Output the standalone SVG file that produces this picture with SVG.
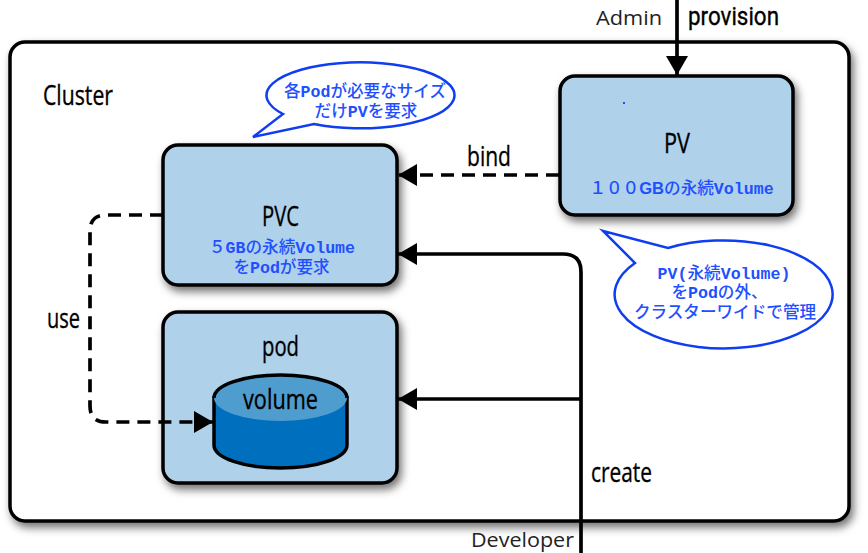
<svg xmlns="http://www.w3.org/2000/svg" width="868" height="553" viewBox="0 0 868 553">
<style>
.box{fill:#afd1e9;stroke:#000;stroke-width:3.5;filter:url(#sh)}
.lab{font-family:"Open Sans","Liberation Sans",sans-serif;font-size:28px;fill:#000;stroke:#000;stroke-width:.35}
.act{font-family:"Open Sans","Liberation Sans",sans-serif;font-size:20px;fill:#222}
.note{font-family:"Liberation Mono","Noto Sans CJK JP",sans-serif;font-size:16.600px;font-weight:500;fill:#1f50ff;text-anchor:middle}
.m{font-family:"Liberation Mono","Noto Sans CJK JP",monospace;font-weight:700}
.gb{font-family:"Liberation Sans","Noto Sans CJK JP",sans-serif;font-weight:700}
.bub{fill:#fff;stroke:#0f3df0;stroke-width:2.5;stroke-linejoin:miter}
.con{fill:none;stroke:#000;stroke-width:3.7}
.dash{stroke-dasharray:13 8}
</style>
<defs>
<filter id="sh" x="-10%" y="-10%" width="120%" height="125%"><feDropShadow dx="3" dy="5" stdDeviation="4" flood-color="#000" flood-opacity="0.55"/></filter>
<marker id="ah" markerUnits="userSpaceOnUse" markerWidth="20" markerHeight="24" refX="19" refY="11" orient="auto"><path d="M0 0L19 11L0 22Z" fill="#000"/></marker>
</defs>
<rect width="868" height="553" fill="#fff"/>
<g id="cluster">
<rect class="box" style="fill:#fff" x="10" y="42" width="839" height="479" rx="15"/>
<text class="lab" x="43" y="105" textLength="70" lengthAdjust="spacingAndGlyphs">Cluster</text>
</g>
<g id="pv">
<rect class="box" x="560" y="76" width="233" height="139" rx="15"/>
<circle cx="624" cy="103" r="1" fill="#1010ff"/>
<text class="lab" x="664" y="153" textLength="26" lengthAdjust="spacingAndGlyphs">PV</text>
<text class="note" x="681.500" y="194">１００<tspan class="gb">GB</tspan>の永続<tspan class="m">Volume</tspan></text>
</g>
<g id="pvc">
<rect class="box" x="163" y="145" width="234" height="140" rx="15"/>
<text class="lab" x="262" y="226" textLength="37" lengthAdjust="spacingAndGlyphs">PVC</text>
<text class="note" x="282" y="253">５<tspan class="m">GB</tspan>の永続<tspan class="m">Volume</tspan></text>
<text class="note" x="281.500" y="273">を<tspan class="m">Pod</tspan>が要求</text>
</g>
<g id="pod">
<rect class="box" x="163" y="312" width="234" height="171" rx="15"/>
<text class="lab" x="262" y="356" textLength="37" lengthAdjust="spacingAndGlyphs">pod</text>
</g>
<g id="volume">
<path d="M214 398V445C214 458 244 468 280.500 468S347 458 347 445V398Z" fill="#006fbd" stroke="#000" stroke-width="3.500"/>
<ellipse cx="280.500" cy="398" rx="66.500" ry="23" fill="#4f9ccf"/>
<path d="M214 398C214 385 244 375 280.500 375S347 385 347 398" fill="none" stroke="#000" stroke-width="3.500"/>
<text class="lab" x="243" y="409" textLength="75" lengthAdjust="spacingAndGlyphs">volume</text>
</g>
<g id="connectors">
<path class="con" d="M677 0V75" marker-end="url(#ah)"/>
<path class="con dash" d="M559 175H398" marker-end="url(#ah)"/>
<path class="con" d="M581 553V272Q581 254 563 254H398" marker-end="url(#ah)"/>
<path class="con" d="M581 399H398" marker-end="url(#ah)"/>
<path class="con dash" d="M163 215H106Q90 215 90 231V406Q90 422 106 422H213" marker-end="url(#ah)"/>
</g>
<g id="callout-pv-request">
<path class="bub" d="M253 137L283 114A94 33 0 1 1 314 124Z"/>
<text class="note" x="365" y="97">各<tspan class="m">Pod</tspan>が必要なサイズ</text>
<text class="note" x="366" y="117">だけ<tspan class="m">PV</tspan>を要求</text>
</g>
<g id="callout-pv-scope">
<path class="bub" d="M603 231L668 248A109 54 0 1 1 635 263Z"/>
<text class="note" x="724" y="279"><tspan class="m">PV(</tspan>永続<tspan class="m">Volume)</tspan></text>
<text class="note" x="719.500" y="298">を<tspan class="m">Pod</tspan>の外、</text>
<text class="note" x="725" y="318">クラスターワイドで管理</text>
</g>
<g id="labels">
<text class="act" x="596" y="25" textLength="66" lengthAdjust="spacingAndGlyphs">Admin</text>
<text class="lab" style="font-family:Roboto,'Open Sans',sans-serif;font-size:26.500px" x="688" y="25" textLength="91" lengthAdjust="spacingAndGlyphs">provision</text>
<text class="lab" x="467" y="166" textLength="44" lengthAdjust="spacingAndGlyphs">bind</text>
<text class="lab" x="47" y="328" textLength="33" lengthAdjust="spacingAndGlyphs">use</text>
<text class="lab" x="591" y="482" textLength="61" lengthAdjust="spacingAndGlyphs">create</text>
<text class="act" x="471" y="547" textLength="103" lengthAdjust="spacingAndGlyphs">Developer</text>
</g>
</svg>
